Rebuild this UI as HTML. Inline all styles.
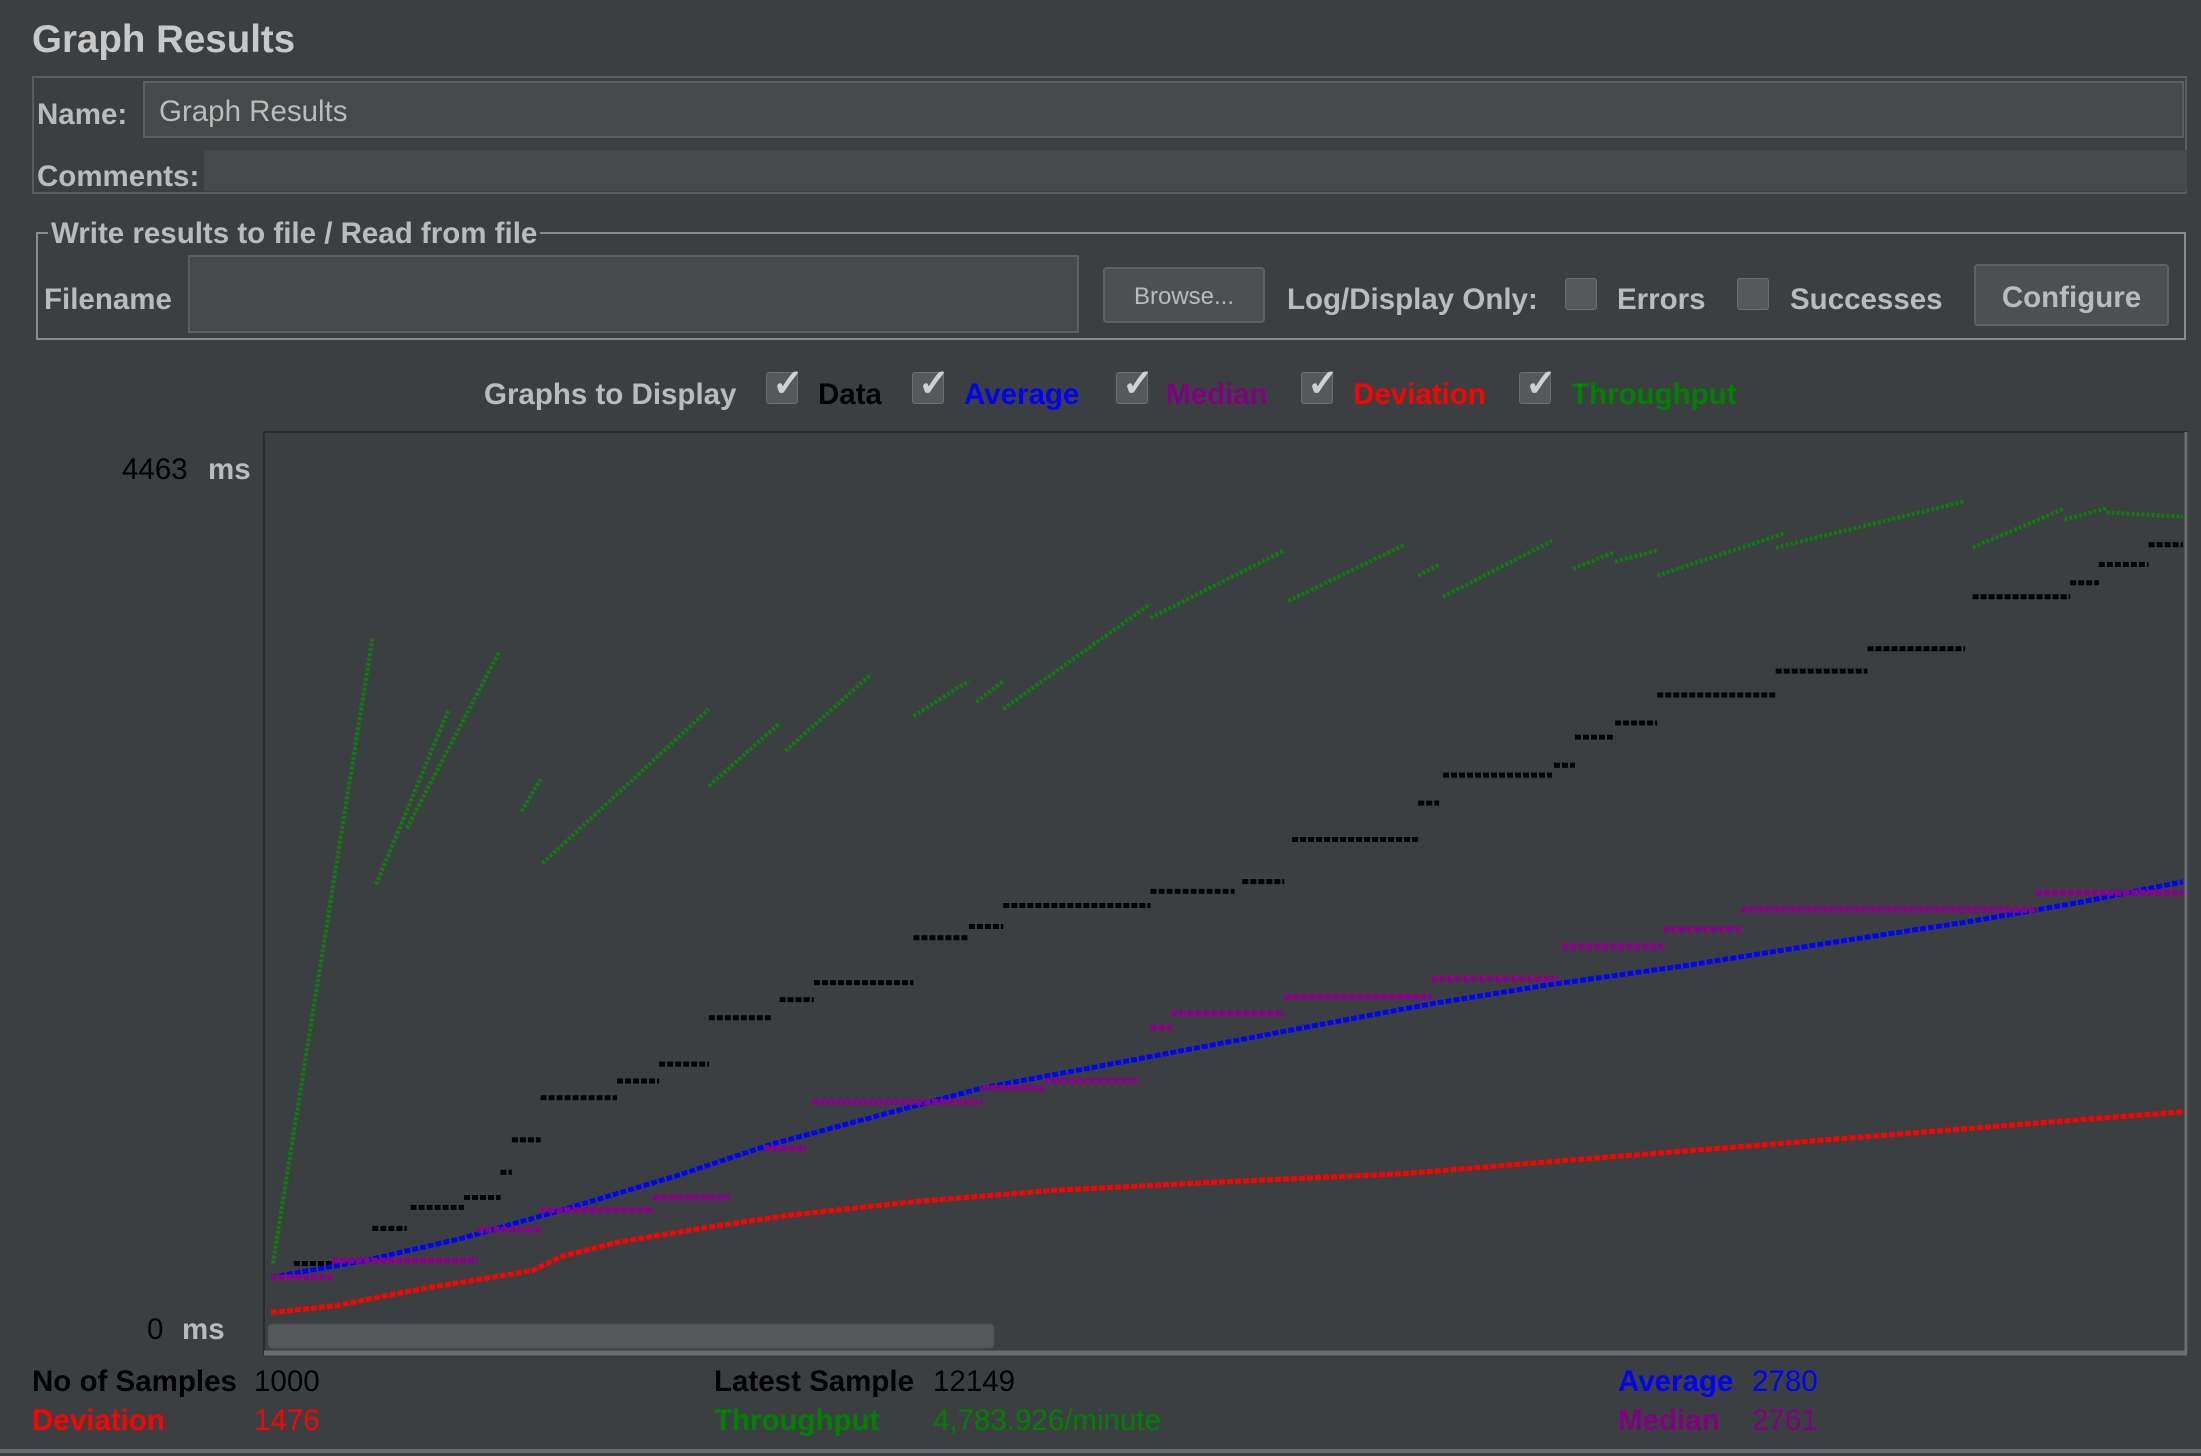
<!DOCTYPE html>
<html><head><meta charset="utf-8"><style>
body{margin:0;width:2201px;height:1456px;background:#3c3f41;font-family:"Liberation Sans",sans-serif;overflow:hidden;position:relative;color:#bbbbbb}
.a{position:absolute;white-space:nowrap}
.t{margin-top:2px;font-size:29.5px !important}
.b{font-weight:bold}
.cb{position:absolute;width:32px;height:32px;background:#55595b;border:1px solid #6b6f71;border-radius:3px;box-sizing:border-box}
.cb span{position:absolute;left:5px;top:-12px;font-size:38px;color:#d0d0d0;font-weight:bold}
</style></head><body>
<div class="a b" style="left:32px;top:18px;font-size:38.5px;color:#c8c8c8">Graph Results</div>

<div class="a" style="left:32px;top:76px;width:2155px;height:118px;border:2px solid #5a5d5f;box-sizing:border-box"></div>
<div class="a b t" style="left:37px;top:96px;font-size:29px">Name:</div>
<div class="a t" style="left:143px;top:79px;width:2041px;height:57px;background:#45494a;border:2px solid #5c5f61;box-sizing:border-box;font-size:29px;padding:12px 14px;color:#bbbbbb">Graph Results</div>
<div class="a b t" style="left:37px;top:158px;font-size:29px">Comments:</div>
<div class="a" style="left:204px;top:150px;width:1983px;height:41px;background:#45494a"></div>

<div class="a" style="left:36px;top:232px;width:2150px;height:108px;border:2px solid #8a8d8f;box-sizing:border-box"></div>
<div class="a b t" style="left:48px;top:215px;font-size:29px;background:#3c3f41;padding:0 3px">Write results to file / Read from file</div>
<div class="a b t" style="left:44px;top:281px;font-size:29px">Filename</div>
<div class="a" style="left:188px;top:255px;width:891px;height:78px;background:#45494a;border:2px solid #5c5f61;box-sizing:border-box"></div>
<div class="a" style="left:1103px;top:267px;width:162px;height:56px;background:#4c5052;border:2px solid #5e6264;border-radius:4px;box-sizing:border-box;font-size:24px;text-align:center;line-height:56px">Browse...</div>
<div class="a b t" style="left:1287px;top:281px;font-size:29px">Log/Display Only:</div>
<div class="cb" style="left:1565px;top:278px"></div>
<div class="a b t" style="left:1617px;top:281px;font-size:29px">Errors</div>
<div class="cb" style="left:1737px;top:278px"></div>
<div class="a b t" style="left:1790px;top:281px;font-size:29px">Successes</div>
<div class="a b" style="left:1974px;top:264px;width:195px;height:62px;background:#4c5052;border:2px solid #5e6264;border-radius:4px;box-sizing:border-box;font-size:29.5px;text-align:center;line-height:64px">Configure</div>

<div class="a b t" style="left:484px;top:376px;font-size:29px">Graphs to Display</div>
<div class="cb" style="left:766px;top:372px"><span>✓</span></div>
<div class="a b t" style="left:818px;top:376px;font-size:29px;color:#000">Data</div>
<div class="cb" style="left:912px;top:372px"><span>✓</span></div>
<div class="a b t" style="left:964px;top:376px;font-size:29px;color:#0000ff">Average</div>
<div class="cb" style="left:1116px;top:372px"><span>✓</span></div>
<div class="a b t" style="left:1166px;top:376px;font-size:29px;color:#800080">Median</div>
<div class="cb" style="left:1301px;top:372px"><span>✓</span></div>
<div class="a b t" style="left:1353px;top:376px;font-size:29px;color:#ff0000">Deviation</div>
<div class="cb" style="left:1519px;top:372px"><span>✓</span></div>
<div class="a b t" style="left:1571px;top:376px;font-size:29px;color:#008000">Throughput</div>

<div class="a t" style="left:122px;top:451px;font-size:29px;color:#000">4463</div>
<div class="a b t" style="left:208px;top:451px;font-size:29px">ms</div>
<div class="a t" style="left:147px;top:1311px;font-size:29px;color:#000">0</div>
<div class="a b t" style="left:182px;top:1311px;font-size:29px">ms</div>

<svg class="a" style="left:0;top:0" width="2201" height="1456" id="chart">
<rect x="264" y="432" width="1923" height="922" fill="#3c3f41" stroke="#2b2d2e" stroke-width="2"/>
<line x1="2186" y1="432" x2="2186" y2="1354" stroke="#6a6d6f" stroke-width="3"/>
<line x1="264" y1="1353" x2="2187" y2="1353" stroke="#6a6d6f" stroke-width="5"/>
<rect x="268" y="1324" width="726" height="24" rx="4" fill="#565859" stroke="#4a4c4d"/>
</svg>

<div class="a b t" style="left:32px;top:1363px;font-size:29px;color:#000">No of Samples</div>
<div class="a t" style="left:254px;top:1363px;font-size:29px;color:#000">1000</div>
<div class="a b t" style="left:714px;top:1363px;font-size:29px;color:#000">Latest Sample</div>
<div class="a t" style="left:933px;top:1363px;font-size:29px;color:#000">12149</div>
<div class="a b t" style="left:1618px;top:1363px;font-size:29px;color:#0000ff">Average</div>
<div class="a t" style="left:1752px;top:1363px;font-size:29px;color:#0000ff">2780</div>
<div class="a b t" style="left:32px;top:1402px;font-size:29px;color:#ff0000">Deviation</div>
<div class="a t" style="left:254px;top:1402px;font-size:29px;color:#ff0000">1476</div>
<div class="a b t" style="left:714px;top:1402px;font-size:29px;color:#008000">Throughput</div>
<div class="a t" style="left:933px;top:1402px;font-size:29px;color:#008000">4,783.926/minute</div>
<div class="a b t" style="left:1618px;top:1402px;font-size:29px;color:#800080">Median</div>
<div class="a t" style="left:1752px;top:1402px;font-size:29px;color:#800080">2761</div>
<div class="a" style="left:0;top:1449px;width:2201px;height:4px;background:#6a6d6f"></div>

<script>
// Average
const avgIdx=[0,49,100,152,211,262,314,372,431,490,548,607,666,739,813,886,945,1000];
const avgVal=[536,631,758,917,1108,1291,1442,1609,1728,1848,1967,2086,2190,2301,2428,2548,2659,2778];
// Deviation
const devIdx=[0,35,53,79,115,137,152,181,225,269,336,409,482,592,702,813,923,1000];
const devVal=[337,377,417,472,536,576,655,735,814,886,965,1029,1069,1124,1220,1315,1410,1474];
// Median steps
const medStart=[0,32,108,141,200,258,283,372,405,460,471,530,607,675,728,769,923];
const medEnd=[32,108,141,200,240,280,372,405,453,471,530,607,673,728,769,923,1000];
const medVal=[536,631,806,917,989,1267,1530,1609,1649,1951,2031,2126,2229,2412,2508,2619,2715];
// Data steps
const dataStart=[12,53,73,101,120,126,141,181,203,229,266,284,336,365,383,460,508,534,600,613,671,682,703,725,787,835,890,941,956,982];
const dataEnd=[33,71,101,120,126,141,181,203,229,262,284,336,365,383,460,504,530,600,611,670,682,703,725,787,835,886,941,956,982,1000];
const dataVal=[615,814,933,989,1132,1315,1554,1649,1744,2007,2110,2206,2460,2524,2643,2723,2778,3017,3223,3382,3438,3597,3677,3836,3971,4098,4392,4472,4575,4687];
// Throughput segments
const thrStartIdx=[1,55,71,131,142,229,269,336,369,383,460,532,600,613,681,703,725,787,890,938,960];
const thrStartVal=[615,2762,3080,3176,2882,3319,3518,3717,3796,3756,4273,4369,4512,4392,4551,4591,4512,4671,4671,4830,4870];
const thrEndIdx=[53,93,119,141,229,266,314,365,383,460,530,593,611,670,703,725,791,886,938,960,1000];
const thrEndVal=[4154,3756,4074,3359,3756,3677,3955,3915,3915,4353,4655,4687,4575,4710,4647,4655,4750,4933,4893,4893,4846];

const NS='http://www.w3.org/2000/svg';
const svg=document.getElementById('chart');
const X=i=>271+i*1.912;
const Y=v=>1372-v*0.1765;
function line(x1,y1,x2,y2,color,w,dash,name){
  const l=document.createElementNS(NS,'line');
  l.setAttribute('x1',x1);l.setAttribute('y1',y1);l.setAttribute('x2',x2);l.setAttribute('y2',y2);
  l.setAttribute('stroke',color);l.setAttribute('stroke-width',w);l.setAttribute('stroke-dasharray',dash);
  
  
  svg.appendChild(l);
}
function poly(idx,val,color,name){
  const p=document.createElementNS(NS,'polyline');
  p.setAttribute('points',idx.map((d,k)=>X(d)+','+Y(val[k])).join(' '));
  p.setAttribute('fill','none');p.setAttribute('stroke',color);p.setAttribute('stroke-width',5);p.setAttribute('stroke-dasharray','6 2');
  
  
  svg.appendChild(p);
}
thrStartIdx.forEach((s,k)=>line(X(s),Y(thrStartVal[k]),X(thrEndIdx[k]),Y(thrEndVal[k]),'#0a800a',4,'3 2','throughput-segment'));
dataStart.forEach((s,k)=>line(X(s),Y(dataVal[k]),X(dataEnd[k]),Y(dataVal[k]),'#000',5,'6 2','data-segment'));
poly(devIdx,devVal,'#ff0000','deviation-line');
poly(avgIdx,avgVal,'#0000ff','average-line');
medStart.forEach((s,k)=>line(X(s),Y(medVal[k]),X(medEnd[k]),Y(medVal[k]),'#8a008a',6,'6 2','median-segment'));
</script>
</body></html>
